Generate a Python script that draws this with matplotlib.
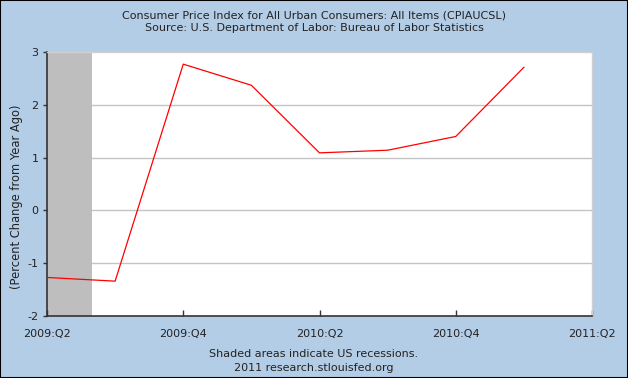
import matplotlib
matplotlib.use('Agg')
import matplotlib.pyplot as plt
from matplotlib.patches import Rectangle

# quarters since 2009:Q2
quarters = [0, 1, 2, 3, 4, 5, 6, 7]
cpi_change = [-1.27, -1.34, 2.77, 2.37, 1.09, 1.14, 1.40, 2.71]
tick_pos = [0, 2, 4, 6, 8]
tick_labels = ['2009:Q2', '2009:Q4', '2010:Q2', '2010:Q4', '2011:Q2']
recession = (0, 0.66)

bg = '#b4cde6'
txt = '#222222'

fig = plt.figure(figsize=(6.28, 3.78), dpi=100, facecolor=bg)
fig.patches.append(Rectangle((0, 0), 1, 1, transform=fig.transFigure,
                             fill=False, edgecolor='black', lw=1.5))

ax = fig.add_axes([47/628, 1-316/378, 545/628, 264/378])
ax.set_facecolor('white')
ax.set_xlim(0, 8)
ax.set_ylim(-2, 3)

ax.axvspan(recession[0], recession[1], color='#bebebe', lw=0, zorder=1)
for yv in [-1, 0, 1, 2]:
    ax.axhline(yv, color='#c4c4c4', lw=1, zorder=0.5)

ax.plot(quarters, cpi_change, color='red', lw=0.9, zorder=3)

ax.set_xticks(tick_pos)
ax.set_xticklabels(tick_labels)
ax.set_yticks([-2, -1, 0, 1, 2, 3])
ax.set_yticklabels(['-2', '-1', '0', '1', '2', '3'])
ax.tick_params(axis='x', direction='in', length=4, width=1, color='#333333',
               labelsize=8, labelcolor=txt, pad=9)
ax.tick_params(axis='y', direction='out', length=3, width=1, color='#333333',
               labelsize=8, labelcolor=txt, pad=3)

for s in ['left', 'bottom']:
    ax.spines[s].set_color('#333333')
    ax.spines[s].set_linewidth(1.2)
for s in ['top', 'right']:
    ax.spines[s].set_color('#d0d0d0')
    ax.spines[s].set_linewidth(1)

fig.text(17/628, 1-197/378, '(Percent Change from Year Ago)', rotation=90,
         ha='center', va='center', fontsize=8.3, color=txt)

fig.text(0.5, 1-15/378, 'Consumer Price Index for All Urban Consumers: All Items (CPIAUCSL)',
         ha='center', va='center', fontsize=8, color=txt)
fig.text(0.5, 1-28/378, 'Source: U.S. Department of Labor: Bureau of Labor Statistics',
         ha='center', va='center', fontsize=8, color=txt)
fig.text(0.5, 1-354/378, 'Shaded areas indicate US recessions.',
         ha='center', va='center', fontsize=8, color=txt)
fig.text(0.5, 1-368/378, '2011 research.stlouisfed.org',
         ha='center', va='center', fontsize=8, color=txt)

fig.savefig('out.png', dpi=100, facecolor=bg)
